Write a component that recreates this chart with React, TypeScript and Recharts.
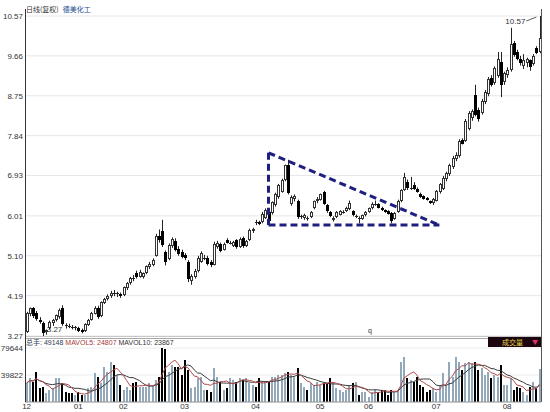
import { ComposedChart, Bar, Line, XAxis, YAxis, CartesianGrid, ReferenceLine, ReferenceDot } from 'recharts'

// daily candles, Dec -> Aug
const opens = [
  3.36, 3.78, 3.90, 3.80, 3.64, 3.57, 3.36, 3.45, 3.56, 3.64,
  3.70, 3.90, 3.52, 3.50, 3.48, 3.46, 3.45, 3.40, 3.38, 3.52,
  3.64, 3.78, 3.92, 3.72, 4.02, 4.12, 4.18, 4.26, 4.22, 4.22,
  4.20, 4.36, 4.48, 4.60, 4.70, 4.62, 4.62, 4.70, 4.84, 4.90,
  5.10, 5.55, 5.66, 5.18, 5.02, 5.32, 5.44, 5.26, 5.18, 5.12,
  4.96, 4.52, 4.62, 4.76, 4.96, 5.06, 5.06, 4.96, 4.90, 5.30,
  5.36, 5.24, 5.46, 5.40, 5.32, 5.46, 5.30, 5.50, 5.32, 5.46,
  5.66, 5.88, 5.87, 5.86, 5.96, 6.10, 6.08, 6.26, 6.44, 6.56,
  6.84, 7.16, 6.28, 6.40, 6.34, 5.98, 5.96, 5.96, 5.98, 6.18,
  6.34, 6.38, 6.55, 6.26, 6.10, 5.92, 5.98, 6.04, 6.10, 6.12,
  6.16, 6.12, 6.00, 5.96, 5.94, 6.02, 6.10, 6.18, 6.28, 6.28,
  6.20, 6.14, 6.12, 6.08, 5.94, 6.10, 6.34, 6.60, 6.78, 6.64,
  6.72, 6.62, 6.52, 6.46, 6.42, 6.34, 6.30, 6.36, 6.56, 6.62,
  6.86, 6.96, 7.12, 7.30, 7.38, 7.74, 7.72, 8.00, 8.24, 8.76,
  8.42, 8.36, 8.60, 8.78, 9.16, 9.04, 9.20, 9.52, 9.06, 9.22,
  9.34, 9.96, 9.74, 9.60, 9.42, 9.50, 9.56, 9.48, 9.84, 9.76,
]
const highs = [
  3.82, 3.92, 3.93, 3.84, 3.70, 3.60, 3.42, 3.62, 3.66, 3.76,
  3.90, 3.97, 3.56, 3.55, 3.52, 3.50, 3.48, 3.44, 3.56, 3.66,
  3.82, 3.95, 3.96, 4.06, 4.14, 4.22, 4.30, 4.32, 4.28, 4.26,
  4.40, 4.50, 4.62, 4.66, 4.76, 4.78, 4.72, 4.88, 4.96, 5.04,
  5.60, 5.70, 5.92, 5.22, 5.38, 5.52, 5.50, 5.32, 5.24, 5.16,
  5.00, 4.68, 4.80, 5.10, 5.20, 5.12, 5.10, 5.00, 5.42, 5.44,
  5.40, 5.40, 5.50, 5.44, 5.44, 5.48, 5.52, 5.54, 5.46, 5.72,
  5.74, 5.92, 5.90, 6.10, 6.18, 6.14, 6.34, 6.54, 6.74, 6.86,
  7.18, 7.29, 6.48, 6.50, 6.38, 6.04, 6.06, 6.00, 6.12, 6.36,
  6.44, 6.52, 6.58, 6.28, 6.12, 6.00, 6.12, 6.14, 6.14, 6.22,
  6.36, 6.14, 6.04, 6.00, 6.04, 6.12, 6.20, 6.32, 6.36, 6.30,
  6.22, 6.16, 6.14, 6.10, 6.10, 6.38, 6.62, 6.99, 6.84, 6.90,
  6.78, 6.66, 6.54, 6.48, 6.44, 6.36, 6.42, 6.60, 6.76, 6.92,
  7.02, 7.20, 7.38, 7.46, 7.76, 7.78, 8.22, 8.40, 8.44, 9.00,
  8.48, 8.68, 8.88, 9.18, 9.22, 9.42, 9.75, 9.75, 9.30, 9.40,
  10.30, 10.00, 9.80, 9.66, 9.70, 9.62, 9.58, 9.70, 9.88, 10.57,
]
const lows = [
  3.34, 3.72, 3.68, 3.62, 3.55, 3.27, 3.30, 3.42, 3.50, 3.60,
  3.66, 3.50, 3.44, 3.45, 3.42, 3.40, 3.36, 3.33, 3.36, 3.50,
  3.62, 3.76, 3.66, 3.70, 4.00, 4.08, 4.14, 4.18, 4.16, 4.14,
  4.18, 4.32, 4.44, 4.52, 4.58, 4.60, 4.58, 4.68, 4.80, 4.86,
  5.08, 5.40, 5.30, 4.88, 5.00, 5.28, 5.20, 5.10, 5.04, 5.00,
  4.50, 4.44, 4.58, 4.72, 4.94, 5.00, 4.88, 4.84, 4.88, 5.26,
  5.18, 5.22, 5.38, 5.36, 5.30, 5.26, 5.28, 5.28, 5.30, 5.44,
  5.62, 5.80, 5.80, 5.84, 5.94, 5.86, 6.04, 6.22, 6.40, 6.54,
  6.80, 6.50, 6.24, 6.34, 5.94, 5.94, 5.92, 5.90, 5.96, 6.16,
  6.30, 6.36, 6.26, 6.08, 5.98, 5.88, 5.96, 6.02, 6.06, 6.10,
  6.14, 6.00, 5.96, 5.84, 5.92, 6.00, 6.08, 6.16, 6.24, 6.18,
  6.12, 6.08, 6.04, 5.84, 5.92, 6.08, 6.32, 6.58, 6.60, 6.60,
  6.60, 6.54, 6.42, 6.38, 6.36, 6.28, 6.26, 6.34, 6.52, 6.60,
  6.80, 6.92, 7.08, 7.26, 7.34, 7.64, 7.70, 7.96, 8.18, 8.28,
  8.16, 8.32, 8.56, 8.74, 8.96, 9.00, 9.16, 8.72, 9.00, 9.16,
  9.30, 9.64, 9.56, 9.44, 9.36, 9.40, 9.32, 9.44, 9.70, 9.72,
]
const closes = [
  3.80, 3.90, 3.72, 3.66, 3.58, 3.34, 3.40, 3.60, 3.64, 3.74,
  3.86, 3.54, 3.50, 3.49, 3.46, 3.47, 3.38, 3.36, 3.54, 3.64,
  3.80, 3.92, 3.70, 4.04, 4.12, 4.18, 4.26, 4.22, 4.24, 4.18,
  4.38, 4.48, 4.60, 4.58, 4.62, 4.74, 4.70, 4.86, 4.92, 5.00,
  5.56, 5.45, 5.34, 4.96, 5.34, 5.48, 5.24, 5.14, 5.08, 5.04,
  4.56, 4.64, 4.76, 5.06, 5.16, 5.06, 4.92, 4.88, 5.38, 5.40,
  5.22, 5.36, 5.40, 5.40, 5.42, 5.30, 5.48, 5.32, 5.44, 5.68,
  5.72, 5.84, 5.83, 6.06, 6.14, 5.90, 6.32, 6.52, 6.72, 6.82,
  7.16, 6.54, 6.44, 6.46, 5.98, 6.00, 6.04, 5.94, 6.10, 6.34,
  6.40, 6.50, 6.28, 6.12, 6.00, 5.96, 6.10, 6.12, 6.10, 6.20,
  6.30, 6.02, 6.00, 5.94, 6.02, 6.10, 6.18, 6.28, 6.28, 6.20,
  6.14, 6.10, 6.06, 5.90, 6.08, 6.34, 6.60, 6.90, 6.64, 6.64,
  6.62, 6.56, 6.44, 6.40, 6.38, 6.30, 6.40, 6.58, 6.74, 6.88,
  6.98, 7.16, 7.34, 7.40, 7.72, 7.66, 8.18, 8.36, 8.40, 8.32,
  8.22, 8.64, 8.84, 9.14, 9.00, 9.38, 9.58, 9.00, 9.26, 9.34,
  9.94, 9.68, 9.60, 9.50, 9.56, 9.58, 9.40, 9.66, 9.72, 10.06,
]
const volumes = [
  28000, 35000, 30000, 44000, 20000, 22000, 13000, 18000, 20000, 35000,
  35000, 28000, 15000, 14000, 13000, 10000, 15000, 10000, 10000, 20000,
  22000, 43000, 37000, 28000, 52000, 44000, 59000, 54000, 40000, 25000,
  18000, 22000, 18000, 28000, 30000, 22000, 22000, 22000, 28000, 25000,
  32000, 37000, 79644, 78000, 44000, 55000, 52000, 52000, 40000, 62000,
  47000, 20000, 22000, 35000, 37000, 18000, 18000, 15000, 50000, 37000,
  30000, 18000, 20000, 35000, 32000, 30000, 35000, 32000, 35000, 28000,
  25000, 22000, 35000, 30000, 30000, 30000, 37000, 37000, 40000, 40000,
  43000, 44000, 40000, 37000, 50000, 28000, 22000, 18000, 28000, 25000,
  30000, 25000, 28000, 28000, 35000, 28000, 20000, 18000, 15000, 18000,
  25000, 28000, 30000, 10000, 15000, 15000, 7000, 15000, 18000, 15000,
  18000, 18000, 10000, 18000, 15000, 18000, 59000, 66000, 35000, 32000,
  30000, 37000, 25000, 22000, 15000, 18000, 20000, 15000, 25000, 43000,
  25000, 59000, 37000, 66000, 59000, 47000, 57000, 59000, 57000, 59000,
  47000, 50000, 40000, 44000, 35000, 40000, 37000, 55000, 25000, 25000,
  35000, 18000, 22000, 20000, 15000, 10000, 22000, 30000, 20000, 49148,
]

const priceTicks = [3.27, 4.19, 5.10, 6.01, 6.93, 7.84, 8.75, 9.66, 10.57]
const volumeTicks = [0, 39822, 79644]
const monthStarts = [0, 16, 30, 49, 71, 91, 106, 127, 149]
const monthLabels = ['12', '01', '02', '03', '04', '05', '06', '07', '08']
// descending triangle drawn over the chart (candle index, price)
const triangle = [
  { x: 75, y: 7.45 },
  { x: 75, y: 5.8 },
  { x: 128, y: 5.8 },
]

const avg = (arr: number[], end: number, n: number) => {
  const s = arr.slice(Math.max(0, end - n + 1), end + 1)
  return s.reduce((a, b) => a + b, 0) / s.length
}

const rows = opens.map((open, i) => ({
  idx: i,
  open,
  high: highs[i],
  low: lows[i],
  close: closes[i],
  vol: volumes[i],
  ma5: avg(volumes, i, 5),
  ma10: avg(volumes, i, 10),
}))

const FONT = '"Liberation Sans", Arial, sans-serif'
const CJK = '"Noto Sans CJK SC", sans-serif'
const tickStyle = { fontSize: 8, fill: '#333', fontFamily: FONT }

function Candle(props: any) {
  const { x, y, width, height, payload } = props
  if (!payload) return null
  const { open, close, high, low } = payload
  const cx = Math.round(x + width / 2)
  const k = high > low ? height / (high - low) : 0
  const py = (v: number) => y + (high - v) * k
  const top = Math.round(py(Math.max(open, close)))
  const bot = Math.round(py(Math.min(open, close)))
  const h = bot - top
  const up = close >= open
  return (
    <g>
      <line x1={cx + 0.5} x2={cx + 0.5} y1={y} y2={y + height} stroke="#222" strokeWidth={1} />
      {h <= 1 ? (
        <line x1={cx - 1} x2={cx + 2} y1={top + 0.5} y2={top + 0.5} stroke="#222" strokeWidth={1} />
      ) : up ? (
        <rect x={cx - 0.5} y={top + 0.5} width={2} height={h - 1} fill="#fff" stroke="#333" strokeWidth={1} />
      ) : (
        <rect x={cx - 1} y={top} width={3} height={h} fill="#000" />
      )}
    </g>
  )
}

function VolBar(props: any) {
  const { x, y, width, height, payload } = props
  if (!payload) return null
  const cx = Math.round(x + width / 2)
  const down = payload.close < payload.open
  return <rect x={cx - 1} y={Math.round(y)} width={2} height={Math.round(height)} fill={down ? '#000' : '#93a8b8'} />
}

function MaxLabel(props: any) {
  const { x, y } = props.viewBox
  return (
    <g>
      <line x1={x - 12} y1={y + 6} x2={x - 2} y2={y + 2} stroke="#333" strokeWidth={0.8} />
      <text x={x - 13} y={y + 9} textAnchor="end" fontSize={8} fontFamily={FONT} fill="#333">10.57</text>
    </g>
  )
}

function MinLabel(props: any) {
  const { x, y } = props.viewBox
  return (
    <g>
      <line x1={x + 2} y1={y - 2} x2={x + 5} y2={y - 4} stroke="#333" strokeWidth={0.8} />
      <text x={x + 5} y={y - 3} fontSize={8} fontFamily={FONT} fill="#333">3.27</text>
    </g>
  )
}

export default function App() {
  return (
    <div style={{ position: 'absolute', left: 0, top: 0, width: 550, height: 412, background: '#fff', overflow: 'hidden' }}>
      <div style={{ position: 'absolute', left: 26, top: 5, fontSize: 7, lineHeight: '9px', fontFamily: CJK, whiteSpace: 'nowrap' }}>
        <span style={{ color: '#333' }}>日线(复权)</span>
        <span style={{ color: '#1b4b8c', marginLeft: 4 }}>德美化工</span>
      </div>

      <div style={{ position: 'absolute', left: 25, top: 336, width: 516, height: 1, borderTop: '1px solid #a8a8a8', borderBottom: '1px solid #a8a8a8' }} />

      <div style={{ position: 'absolute', left: 0, top: 0 }}>
        <ComposedChart width={550} height={344} data={rows} margin={{ top: 16, right: 9, bottom: 8, left: 0 }}>
          <CartesianGrid horizontal vertical={false} stroke="#e6e6e6" />
          <XAxis dataKey="idx" hide />
          <YAxis
            domain={[3.27, 10.57]}
            ticks={priceTicks}
            allowDataOverflow
            width={25}
            tick={tickStyle}
            tickFormatter={(v: number) => v.toFixed(2)}
            tickLine={false}
            axisLine={false}
            tickSize={0}
            tickMargin={2}
            interval={0}
          />
          <Bar dataKey={(d: any) => [d.low, d.high]} shape={(p: any) => <Candle {...p} />} isAnimationActive={false} />
          <ReferenceLine segment={[triangle[0], triangle[1]]} stroke="#1f1f80" strokeWidth={3} strokeDasharray="7 4" />
          <ReferenceLine segment={[triangle[1], triangle[2]]} stroke="#1f1f80" strokeWidth={3} strokeDasharray="7 4" />
          <ReferenceLine segment={[triangle[0], triangle[2]]} stroke="#1f1f80" strokeWidth={3} strokeDasharray="7 4" />
          <ReferenceDot x={159} y={10.57} r={1} fill="none" stroke="none" label={(p: any) => <MaxLabel {...p} />} />
          <ReferenceDot x={5} y={3.27} r={1} fill="none" stroke="none" label={(p: any) => <MinLabel {...p} />} />
        </ComposedChart>
      </div>

      <div style={{ position: 'absolute', left: 368, top: 327, fontSize: 7, fontFamily: FONT, color: '#333' }}>q</div>

      <div style={{ position: 'absolute', left: 0, top: 338 }}>
        <ComposedChart width={550} height={74} data={rows} margin={{ top: 10, right: 9, bottom: 0, left: 0 }}>
          <CartesianGrid horizontal vertical={false} stroke="#ececec" />
          <XAxis
            dataKey="idx"
            ticks={monthStarts}
            interval={0}
            tickFormatter={(v: number) => monthLabels[monthStarts.indexOf(v)]}
            tick={tickStyle}
            tickLine={false}
            axisLine={{ stroke: '#999' }}
            height={10}
            tickSize={0}
            tickMargin={1}
          />
          <YAxis
            domain={[0, 79644]}
            ticks={volumeTicks}
            allowDataOverflow
            width={25}
            tick={tickStyle}
            tickFormatter={(v: number) => (v === 0 ? '' : String(v))}
            tickLine={false}
            axisLine={false}
            tickSize={0}
            tickMargin={2}
            interval={0}
          />
          <Bar dataKey="vol" shape={(p: any) => <VolBar {...p} />} isAnimationActive={false} />
          <Line dataKey="ma10" stroke="#3a3a3a" strokeWidth={1} dot={false} isAnimationActive={false} />
          <Line dataKey="ma5" stroke="#b04a4a" strokeWidth={1} dot={false} isAnimationActive={false} />
        </ComposedChart>
      </div>

      <div style={{ position: 'absolute', left: 26, top: 338, fontSize: 7, lineHeight: '9px', fontFamily: FONT, whiteSpace: 'nowrap' }}>
        <span style={{ color: '#2c3e50', fontFamily: CJK }}>总手</span>
        <span style={{ color: '#2c3e50' }}>: 49148 </span>
        <span style={{ color: '#a83838' }}>MAVOL5: 24807 </span>
        <span style={{ color: '#333' }}>MAVOL10: 23867</span>
      </div>

      <div style={{ position: 'absolute', left: 488, top: 337, width: 53, height: 10, background: '#1c0710', fontFamily: CJK, fontSize: 7, lineHeight: '10px' }}>
        <span style={{ position: 'absolute', left: 14, color: '#e8d84a' }}>成交量</span>
        <span style={{ position: 'absolute', right: 3, color: '#e0306a', fontSize: 6 }}>▼</span>
      </div>

      <div style={{ position: 'absolute', left: 25, top: 9, width: 1, height: 393, background: '#333' }} />
      <div style={{ position: 'absolute', left: 541, top: 9, width: 1, height: 393, background: '#555' }} />
    </div>
  )
}
